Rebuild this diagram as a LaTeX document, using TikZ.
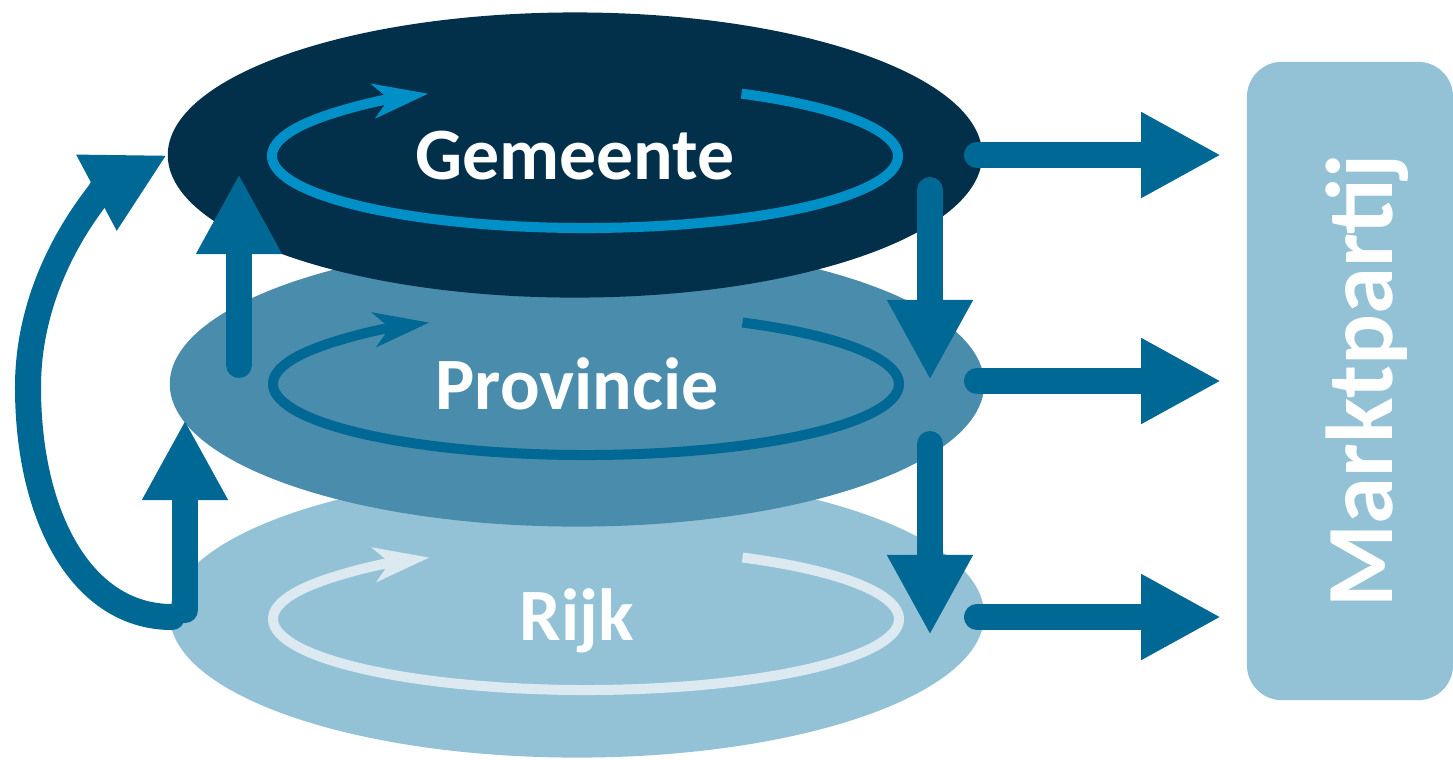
\documentclass[tikz,border=0pt]{standalone}
\usepackage{fontspec}
\setmainfont{Carlito}
\usepackage{tikz}
\usetikzlibrary{arrows.meta,shapes.geometric,positioning,calc}
\definecolor{gemeenteblue}{HTML}{02304A}
\definecolor{provincieblue}{HTML}{4A8CAB}
\definecolor{rijkblue}{HTML}{93C2D7}
\definecolor{arrowblue}{HTML}{006894}
\definecolor{cyclebright}{HTML}{0090C8}
\definecolor{cyclepale}{HTML}{DCE9F1}
\tikzset{
  layer/.style={ellipse, inner sep=0pt, minimum width=8.14cm, minimum height=2.85cm,
    text=white, text depth=0pt, font=\bfseries\fontsize{21}{25}\selectfont},
  loopline/.style={line width=0.1cm, -{Stealth[length=0.55cm, width=0.34cm, inset=0.15cm]}},
  flow/.style={draw=arrowblue, line width=0.26cm, line cap=round,
    -{Triangle[length=0.8cm, width=0.8cm]}},
}

\begin{document}
\begin{tikzpicture}[x=0.01cm, y=-0.01cm]
    \useasboundingbox (0,0) rectangle (1453,759);
    % layers, bottom one first
    \node[layer, fill=rijkblue] (rijk) at (577,615) {Rijk};
    \draw[loopline, cyclepale] ($(rijk)+(9,4)$) ++(-60:313 and 71)
        arc[start angle=-60, end angle=240, x radius=313, y radius=71];
    \node[layer, fill=provincieblue] (provincie) at (577,384) {Provincie};
    \draw[loopline, arrowblue] ($(provincie)+(9,0)$) ++(-60:313 and 71)
        arc[start angle=-60, end angle=240, x radius=313, y radius=71];
    \node[layer, fill=gemeenteblue] (gemeente) at (575,155) {Gemeente};
    \draw[loopline, cyclebright] ($(gemeente)+(10,1)$) ++(-60:313 and 72)
        arc[start angle=-60, end angle=240, x radius=313, y radius=72];
    % market party
    \node[fill=rijkblue, rounded corners=0.35cm, minimum width=2.06cm, minimum height=6.38cm]
        (markt) at (1350,381) {};
    \node[rotate=90, text=white, font=\bfseries\fontsize{27}{32}\selectfont]
        (markt_label) at (1367,381) {Marktpartij};
    % arrows up
    \draw[flow] ($(rijk)+(-392,-5)$) -- ($(provincie)+(-392,36)$);
    \draw[flow] ($(provincie)+(-338,-19)$) -- ($(gemeente)+(-336,19)$);
    \draw[flow] ($(rijk)+(-405,2)$) .. controls +(-90,0) and +(0,130) .. (28,387)
        .. controls +(0,-120) and +(-60,32) .. (gemeente.west);
    % arrows down
    \draw[flow] ($(gemeente)+(355,35)$) -- ($(provincie)+(353,-4)$);
    \draw[flow] ($(provincie)+(353,60)$) -- ($(rijk)+(353,20)$);
    % arrows to the market party
    \draw[flow] ([xshift=-0.06cm]gemeente.east) -- ([xshift=-0.25cm]markt.west |- gemeente.east);
    \draw[flow] ([xshift=-0.08cm, yshift=0.03cm]provincie.east) -- ([xshift=-0.25cm, yshift=0.03cm]markt.west |- provincie.east);
    \draw[flow] ([xshift=-0.08cm, yshift=-0.02cm]rijk.east) -- ([xshift=-0.25cm, yshift=-0.02cm]markt.west |- rijk.east);
\end{tikzpicture}
\end{document}
